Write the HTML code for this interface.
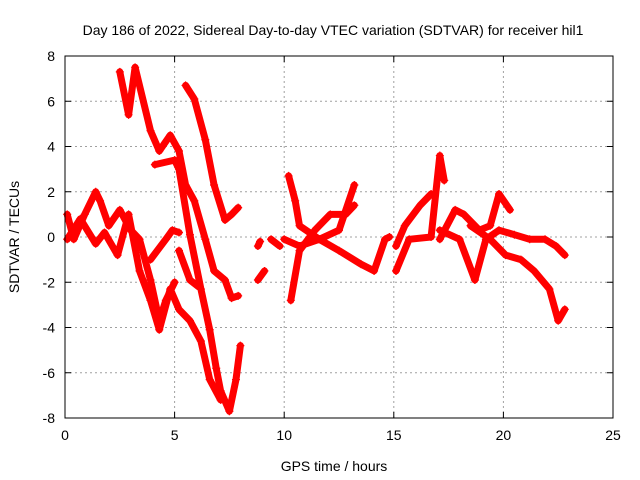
<!DOCTYPE html>
<html><head><meta charset="utf-8"><style>
body{margin:0;background:#fff}
svg{display:block;font-family:"Liberation Sans",sans-serif}
</style></head><body>
<svg id="c" width="640" height="480">
<text x="333" y="35" font-size="14" text-anchor="middle">Day 186 of 2022, Sidereal Day-to-day VTEC variation (SDTVAR) for receiver hil1</text>
<text x="334" y="471" font-size="14" text-anchor="middle">GPS time / hours</text>
<text transform="translate(19,237) rotate(-90)" font-size="14" text-anchor="middle">SDTVAR / TECUs</text>
<g id="grid"></g><g id="series"></g>
<rect x="65" y="56" width="548" height="362" fill="none" stroke="#000"/>
</svg>
<script>
const xTicks=[0,5,10,15,20,25];
const yTicks=[-8,-6,-4,-2,0,2,4,6,8];
const tracks=[
[[2.5,7.3],[2.9,5.4],[3.2,7.5],[3.9,4.7],[4.3,3.8],[4.8,4.5],[5.2,3.8],[5.5,2.3],[5.9,1.6],[6.4,-0.1],[6.8,-1.5],[7.3,-1.9],[7.6,-2.7],[7.9,-2.6]],
[[5.5,6.7],[5.9,6.1],[6.4,4.3],[6.8,2.3],[7.3,0.75],[7.6,1.0],[7.9,1.3]],
[[4.1,3.2],[5.0,3.4],[5.2,3.0],[5.7,0.1],[6.2,-2.3],[6.6,-4.1],[6.9,-5.8],[7.1,-6.8],[7.5,-7.7],[7.8,-6.3],[8.0,-4.8]],
[[0.1,1.0],[0.4,-0.1],[0.9,1.0],[1.4,2.0],[1.6,1.6],[2.0,0.5],[2.5,1.2],[3.0,0.3],[3.4,-0.1],[3.9,-1.9],[4.3,-3.7],[4.6,-2.8],[5.0,-2.0]],
[[0.1,-0.1],[0.7,0.8],[1.4,-0.3],[1.8,0.2],[2.4,-0.8],[2.9,1.0],[3.4,-1.5],[3.9,-2.8],[4.3,-4.1],[4.8,-2.3],[5.2,-3.2],[5.7,-3.7],[6.2,-4.6],[6.6,-6.3],[7.1,-7.2]],
[[3.9,-1.0],[4.6,-0.1],[4.9,0.3],[5.2,0.2]],
[[5.2,-0.6],[5.7,-1.9],[6.1,-2.2]],
[[8.8,-0.4],[8.9,-0.2]],
[[8.8,-1.9],[9.1,-1.5]],
[[9.4,-0.1],[9.8,-0.4]],
[[10.2,2.7],[10.5,1.6],[10.7,0.5],[11.6,-0.1],[12.5,0.3],[13.2,2.3]],
[[10.3,-2.8],[10.7,-0.6],[11.4,0.3],[12.1,1.0],[12.8,1.0],[13.2,1.4]],
[[10.0,-0.1],[10.7,-0.4],[11.6,-0.1],[12.5,-0.6],[13.5,-1.2],[14.1,-1.5],[14.6,-0.1],[14.8,0]],
[[15.1,-0.4],[15.5,0.5],[16.2,1.4],[16.7,1.9]],
[[15.1,-1.5],[15.7,-0.1],[16.7,0],[17.1,3.6],[17.3,2.5]],
[[17.1,-0.1],[17.8,1.2],[18.2,1.0],[18.9,0.3],[19.4,0.5],[19.8,1.9],[20.3,1.2]],
[[17.1,0.3],[18.0,-0.1],[18.7,-1.9],[19.2,-0.1],[19.8,0.3],[20.5,0.1],[21.2,-0.1],[21.9,-0.1],[22.4,-0.4],[22.8,-0.8]],
[[18.5,0.5],[19.4,-0.1],[20.1,-0.8],[20.8,-1.0],[21.4,-1.5],[22.1,-2.3],[22.5,-3.7],[22.8,-3.2]]
];
const NS='http://www.w3.org/2000/svg';
const X0=65,X1=613,Y0=418,Y1=56;
const sx=t=>X0+(t-0)/(25-0)*(X1-X0);
const sy=v=>Y0-(v+8)/16*(Y0-Y1);
const grid=document.getElementById('grid');
function mk(tag,attrs,parent){const e=document.createElementNS(NS,tag);for(const k in attrs)e.setAttribute(k,attrs[k]);parent.appendChild(e);return e;}
xTicks.forEach(t=>{
  const x=sx(t);
  if(t>0&&t<25){const l=mk('line',{x1:x,x2:x,y1:Y1,y2:Y0,stroke:'#a0a0a0','stroke-dasharray':'2,3'},grid);
  
  }
  mk('line',{x1:x,x2:x,y1:Y0,y2:Y0-6,stroke:'#000'},grid);
  mk('line',{x1:x,x2:x,y1:Y1,y2:Y1+6,stroke:'#000'},grid);
  const tx=mk('text',{x:x,y:Y0+22,'font-size':14,'text-anchor':'middle'},grid);tx.textContent=t;
  
  
});
yTicks.forEach(v=>{
  const y=sy(v);
  if(v>-8&&v<8){const l=mk('line',{x1:X0,x2:X1,y1:y,y2:y,stroke:'#a0a0a0','stroke-dasharray':'2,3'},grid);
  
  }
  mk('line',{x1:X0,x2:X0+6,y1:y,y2:y,stroke:'#000'},grid);
  mk('line',{x1:X1,x2:X1-6,y1:y,y2:y,stroke:'#000'},grid);
  const tx=mk('text',{x:X0-10,y:y+5,'font-size':14,'text-anchor':'end'},grid);tx.textContent=v;
  
  
});
const sg=document.getElementById('series');
tracks.forEach(tr=>{
  const pts=tr.map(p=>sx(p[0]).toFixed(1)+','+sy(p[1]).toFixed(1)).join(' ');
  const pl=mk('polyline',{points:pts,fill:'none',stroke:'#ff0000','stroke-width':7,'stroke-linejoin':'round','stroke-linecap':'round'},sg);
  
  
  tr.forEach(p=>{
    const x=sx(p[0]),y=sy(p[1]);
    const m=mk('path',{d:`M${x-4},${y}h8M${x},${y-4}v8`,stroke:'#ff0000','stroke-width':1.2},sg);
    
    
  });
});
</script>
</body></html>
